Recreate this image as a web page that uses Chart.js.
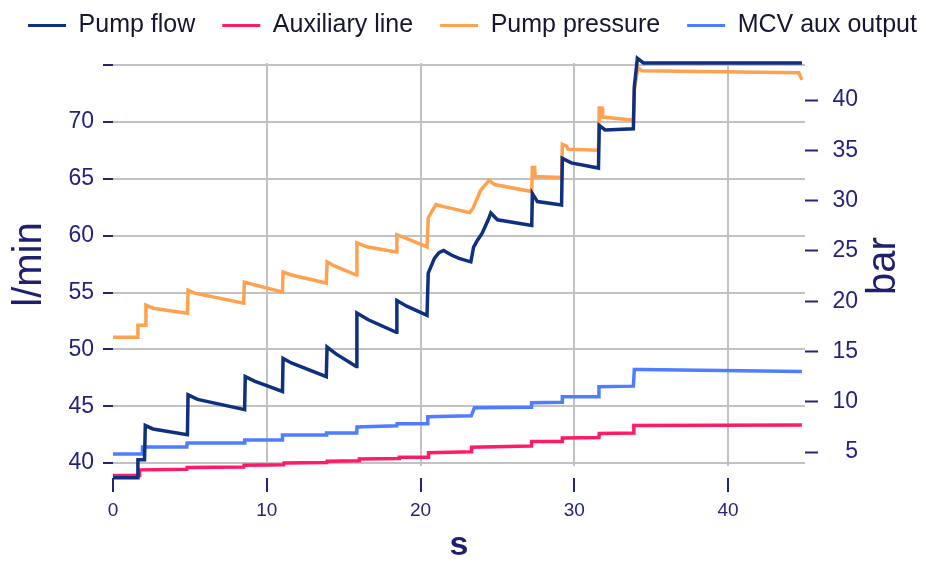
<!DOCTYPE html>
<html><head><meta charset="utf-8">
<script src="https://cdn.jsdelivr.net/npm/chart.js@4.4.1/dist/chart.umd.min.js"></script>
<style>html,body{margin:0;padding:0;background:#fff;}#wrap{width:945px;height:563px;}</style>
</head><body><div id="wrap"><canvas id="c" width="945" height="563"></canvas></div>
<script>
const seriesNames = ['Pump flow', 'Auxiliary line', 'Pump pressure', 'MCV aux output'];
const xTicks = [0, 10, 20, 30, 40];
const leftTicks = [40, 45, 50, 55, 60, 65, 70, 75];
const rightTicks = [5, 10, 15, 20, 25, 30, 35, 40];

const pumpFlowT = [0, 1.6, 1.62, 2.05, 2.1, 2.6, 4.84, 4.88, 5.5, 8.56, 8.6, 9.2, 11.02, 11.06, 11.6, 13.87, 13.92, 14.5, 15.82, 15.86, 16.6, 18.42, 18.46, 19.1, 20.42, 20.5, 20.9, 21.2, 21.5, 22.0, 22.5, 23.27, 23.45, 23.7, 24.0, 24.4, 24.57, 25.0, 27.23, 27.27, 27.6, 29.17, 29.22, 29.8, 31.57, 31.62, 32.0, 33.84, 33.9, 34.1, 34.5, 44.8];
const pumpFlowV = [38.7, 38.7, 40.3, 40.3, 43.3, 43.0, 42.5, 46.0, 45.6, 44.7, 47.6, 47.2, 46.3, 49.2, 48.8, 47.6, 50.2, 49.6, 48.5, 53.2, 52.6, 51.5, 54.3, 53.8, 53.0, 56.7, 58.0, 58.5, 58.7, 58.3, 58.0, 57.7, 59.0, 59.6, 60.2, 61.4, 62.0, 61.4, 60.9, 63.7, 63.0, 62.7, 66.8, 66.4, 65.95, 69.7, 69.3, 69.4, 73.1, 75.6, 75.2, 75.2];

const auxT = [0, 1.7, 1.72, 4.8, 4.82, 8.5, 8.52, 11.1, 11.12, 13.9, 13.92, 16.0, 16.02, 18.6, 18.62, 20.5, 20.52, 23.3, 23.32, 27.2, 27.22, 29.2, 29.22, 31.6, 31.62, 33.85, 33.87, 44.8];
const auxV = [38.9, 38.9, 39.4, 39.45, 39.6, 39.65, 39.8, 39.85, 40.0, 40.05, 40.15, 40.2, 40.35, 40.4, 40.5, 40.5, 40.9, 41.0, 41.4, 41.5, 41.9, 41.9, 42.2, 42.25, 42.6, 42.65, 43.3, 43.35];

const pumpPressT = [0, 1.6, 1.62, 2.1, 2.14, 2.6, 4.84, 4.88, 5.3, 8.5, 8.54, 9.0, 11.02, 11.06, 11.6, 13.87, 13.92, 14.4, 15.82, 15.86, 16.5, 18.42, 18.46, 19.0, 20.42, 20.5, 21.0, 21.5, 23.2, 23.4, 23.9, 24.45, 24.8, 27.23, 27.27, 27.42, 27.45, 29.17, 29.22, 29.5, 29.6, 31.57, 31.62, 31.8, 31.84, 33.84, 33.9, 34.05, 34.15, 34.4, 44.6, 44.8];
const pumpPressV = [16.4, 16.4, 17.6, 17.6, 19.6, 19.3, 18.8, 21.1, 20.8, 19.8, 21.9, 21.7, 20.9, 22.9, 22.6, 21.8, 23.9, 23.5, 22.6, 25.8, 25.4, 24.9, 26.6, 26.3, 25.4, 28.3, 29.6, 29.4, 28.8, 29.2, 31.0, 32.0, 31.6, 30.9, 33.3, 33.3, 32.4, 32.3, 35.6, 35.4, 35.1, 35.0, 39.2, 39.2, 38.3, 38.0, 41.0, 42.5, 43.2, 42.9, 42.7, 42.0];

const mcvT = [0, 1.9, 1.92, 4.8, 4.82, 8.55, 8.57, 11.0, 11.02, 13.87, 13.89, 15.85, 15.87, 18.45, 18.47, 20.45, 20.47, 23.3, 23.5, 27.2, 27.22, 29.2, 29.22, 31.57, 31.6, 33.84, 33.9, 34.3, 44.8];
const mcvV = [4.8, 4.8, 5.5, 5.5, 5.9, 5.9, 6.2, 6.2, 6.7, 6.7, 6.9, 6.9, 7.5, 7.6, 7.8, 7.8, 8.5, 8.6, 9.4, 9.45, 9.9, 9.95, 10.5, 10.5, 11.5, 11.55, 13.2, 13.2, 13.0];

const colors = ['#0f2f7f', '#ff1a6a', '#ffa24f', '#4f7dff'];
const NAVY = '#24247e';
const FONT = '"Liberation Sans", Arial, sans-serif';

function pts(t, v) { return t.map((x, i) => ({x: x, y: v[i]})); }

function mk(i, t, v, axis) {
  return {
    label: seriesNames[i], data: pts(t, v), yAxisID: axis,
    borderColor: colors[i], backgroundColor: colors[i],
    borderWidth: 3.5, pointRadius: 0, tension: 0,
    clip: {left: 2, top: 8, right: 2, bottom: 16}
  };
}

const legendFix = {
  id: 'legendFix',
  beforeInit(chart) {
    const lg = chart.legend;
    const fit = lg.fit;
    lg.fit = function () { this.maxWidth = chart.width; fit.call(this); this.height = 77; };
  },
  afterLayout(chart) {
    const lg = chart.legend;
    lg.left = 0; lg.right = chart.width; lg.width = chart.width;
  }
};

const rightTitle = {
  id: 'rightTitle',
  afterDraw(chart) {
    const ctx = chart.ctx;
    ctx.save();
    ctx.translate(884, 266);
    ctx.rotate(-Math.PI / 2);
    ctx.font = '40px ' + FONT;
    ctx.fillStyle = '#1f1f70';
    ctx.textAlign = 'center';
    ctx.textBaseline = 'middle';
    ctx.fillText('bar', 0, 0);
    ctx.restore();
  }
};

new Chart(document.getElementById('c'), {
  type: 'line',
  data: {
    datasets: [
      mk(0, pumpFlowT, pumpFlowV, 'y'),
      mk(1, auxT, auxV, 'y'),
      mk(2, pumpPressT, pumpPressV, 'y1'),
      mk(3, mcvT, mcvV, 'y1')
    ]
  },
  plugins: [legendFix, rightTitle],
  options: {
    responsive: false,
    animation: false,
    layout: {padding: {top: -14, left: 0, right: 87, bottom: 0}},
    plugins: {
      tooltip: {enabled: false},
      legend: {
        display: true, position: 'top', align: 'center', fullSize: true,
        labels: {
          boxWidth: 38, boxHeight: 3, padding: 27,
          color: '#161630',
          font: {family: FONT, size: 25},
          generateLabels(chart) {
            const items = Chart.defaults.plugins.legend.labels.generateLabels(chart);
            items.forEach(it => { it.lineWidth = 0; it.fillStyle = it.strokeStyle; });
            return items;
          }
        }
      }
    },
    scales: {
      x: {
        type: 'linear', min: 0, max: 45,
        afterBuildTicks(s) { s.ticks = xTicks.map(v => ({value: v})); },
        afterFit(s) { s.height = 97; },
        border: {display: false},
        grid: {
          color: ctx => (ctx.tick && ctx.tick.value === 0) ? 'rgba(0,0,0,0)' : '#c2c2c2',
          lineWidth: 2, tickColor: NAVY, tickWidth: 2, tickLength: 26,
          tickBorderDash: [14, 12], tickBorderDashOffset: 14
        },
        ticks: {color: NAVY, font: {family: FONT, size: 19}, padding: 7, maxRotation: 0},
        title: {display: true, text: 's', color: '#1f1f70', font: {family: FONT, size: 34, weight: 'bold', lineHeight: 1}, padding: 0}
      },
      y: {
        type: 'linear', position: 'left', min: 39.74, max: 75.19,
        afterBuildTicks(s) { s.ticks = leftTicks.map(v => ({value: v})); },
        afterFit(s) { s.width = 113; },
        border: {display: false},
        grid: {color: '#c2c2c2', lineWidth: 2, tickColor: NAVY, tickWidth: 2, tickLength: 10},
        ticks: {color: NAVY, font: {family: FONT, size: 23}, padding: 9,
          callback: v => (v === 75 ? '' : String(v))},
        title: {display: true, text: 'l/min', color: '#1f1f70', font: {family: FONT, size: 40, lineHeight: 1}, padding: {top: 10, bottom: 0}}
      },
      y1: {
        type: 'linear', position: 'right', min: 3.61, max: 43.68,
        afterBuildTicks(s) { s.ticks = rightTicks.map(v => ({value: v})); },
        afterFit(s) { s.width = 53; },
        border: {display: false},
        grid: {drawOnChartArea: false, color: NAVY, tickColor: NAVY, tickWidth: 2, tickLength: 13},
        ticks: {color: NAVY, font: {family: FONT, size: 23}, padding: 13, crossAlign: 'far'}
      }
    }
  }
});
</script>
</body></html>
